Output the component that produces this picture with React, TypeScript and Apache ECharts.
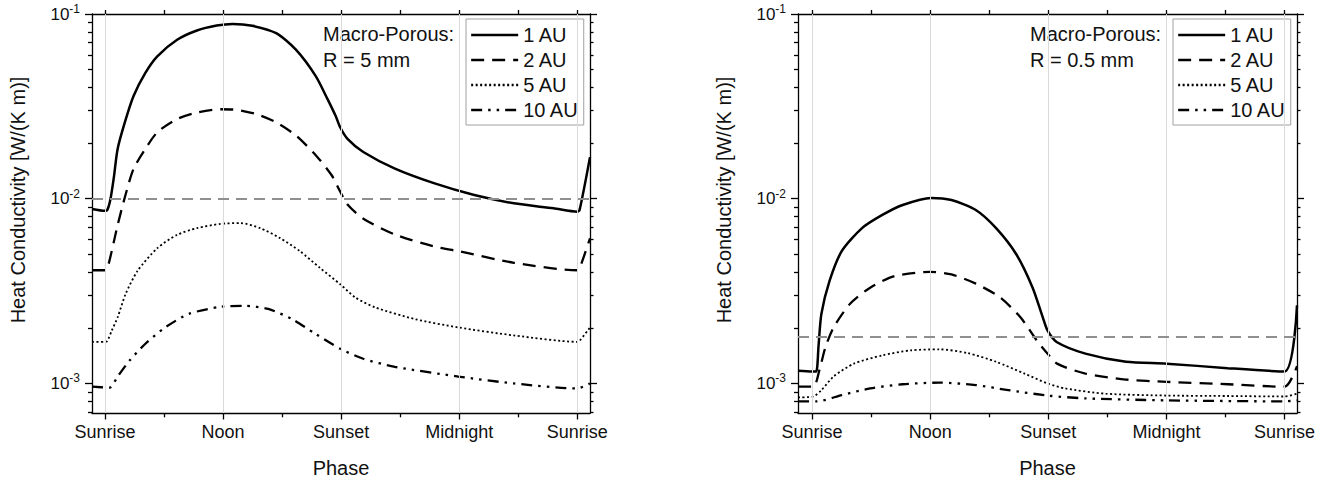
import React, { useEffect, useRef } from 'react';
import * as echarts from 'echarts';

// ---- Data (phase: 0 = Sunrise, 1 = Noon, 2 = Sunset, 3 = Midnight, 4 = Sunrise) ----
const PHASE_LABELS = ['Sunrise', 'Noon', 'Sunset', 'Midnight', 'Sunrise'];
const MAJOR_PHASES = [0, 1, 2, 3, 4];
const MINOR_PHASES = [0.5, 1.5, 2.5, 3.5];
const DECADE_EXPONENTS = [-3, -2, -1];
const SERIES_NAMES = ['1 AU', '2 AU', '5 AU', '10 AU'];
const PANEL_NOTES = ['Macro-Porous:\nR = 5 mm', 'Macro-Porous:\nR = 0.5 mm'];
const REFERENCE_LEVELS = [0.01, 0.0018];
const Y_AXIS_TITLE = 'Heat Conductivity [W/(K m)]';
const X_AXIS_TITLE = 'Phase';

// Left panel: R = 5 mm
const left1AU: [number, number][] = [
  [-0.11, 0.0088], [0, 0.0086], [0.02, 0.0087], [0.047, 0.01], [0.074, 0.0129], [0.107, 0.0186],
  [0.168, 0.0259], [0.242, 0.036], [0.342, 0.048], [0.443, 0.059], [0.611, 0.0725], [0.779, 0.0814],
  [0.946, 0.0866], [1.08, 0.0884], [1.248, 0.0863], [1.45, 0.0787], [1.617, 0.0641], [1.785, 0.0461],
  [1.886, 0.0345], [1.953, 0.0281], [1.993, 0.0243], [2.054, 0.0211], [2.188, 0.0179], [2.456, 0.01455],
  [2.792, 0.0121], [3.128, 0.01047], [3.463, 0.00944], [3.799, 0.00887], [4.0, 0.0085], [4.02, 0.0087],
  [4.108, 0.0168],
];
const left2AU: [number, number][] = [
  [-0.11, 0.0041], [0, 0.0041], [0.02, 0.0042], [0.057, 0.0052], [0.107, 0.0072], [0.174, 0.0105],
  [0.242, 0.0145], [0.342, 0.0186], [0.443, 0.0229], [0.611, 0.027], [0.779, 0.0293], [0.98, 0.0305],
  [1.114, 0.0303], [1.282, 0.0287], [1.45, 0.0259], [1.617, 0.022], [1.785, 0.0172], [1.92, 0.0134],
  [1.993, 0.0109], [2.054, 0.0093], [2.188, 0.0078], [2.456, 0.0064], [2.792, 0.0055], [2.993, 0.0052],
  [3.463, 0.0045], [4.0, 0.0041], [4.02, 0.0042], [4.108, 0.0061],
];
const left5AU: [number, number][] = [
  [-0.11, 0.00168], [0, 0.00168], [0.02, 0.0017], [0.057, 0.00193], [0.107, 0.00228], [0.174, 0.00304],
  [0.275, 0.00406], [0.443, 0.0054], [0.611, 0.00638], [0.779, 0.00693], [0.98, 0.00731], [1.148, 0.00738],
  [1.315, 0.00693], [1.483, 0.00612], [1.651, 0.0052], [1.819, 0.00423], [1.993, 0.00344], [2.121, 0.00292],
  [2.289, 0.00258], [2.624, 0.00223], [2.993, 0.00201], [3.463, 0.00182], [4.0, 0.00168], [4.02, 0.0017],
  [4.108, 0.00201],
];
const left10AU: [number, number][] = [
  [-0.11, 0.00096], [0.04, 0.00095], [0.107, 0.00109], [0.208, 0.00133], [0.342, 0.00164], [0.51, 0.00201],
  [0.711, 0.00238], [0.98, 0.0026], [1.181, 0.00263], [1.383, 0.00253], [1.584, 0.00223], [1.785, 0.00185],
  [1.993, 0.00154], [2.188, 0.00136], [2.456, 0.00123], [2.993, 0.00109], [3.463, 0.001], [4.0, 0.00094],
  [4.108, 0.001],
];

// Right panel: R = 0.5 mm
const right1AU: [number, number][] = [
  [-0.119, 0.00117], [0, 0.00116], [0.035, 0.00116], [0.055, 0.0016], [0.079, 0.00238], [0.148, 0.00359],
  [0.251, 0.0052], [0.423, 0.00693], [0.595, 0.00817], [0.767, 0.00925], [1.008, 0.0101], [1.18, 0.00984],
  [1.386, 0.00869], [1.558, 0.00693], [1.73, 0.00499], [1.867, 0.0033], [1.953, 0.00228], [1.994, 0.00193],
  [2.074, 0.00167], [2.314, 0.00145], [2.658, 0.00131], [3.002, 0.00128], [3.518, 0.00121], [3.999, 0.00116],
  [4.105, 0.00265],
];
const right2AU: [number, number][] = [
  [-0.119, 0.00096], [0.01, 0.00096], [0.062, 0.00118], [0.113, 0.00157], [0.182, 0.00201], [0.32, 0.00269],
  [0.492, 0.0033], [0.698, 0.00381], [0.997, 0.00402], [1.18, 0.00389], [1.386, 0.00347], [1.592, 0.00292],
  [1.764, 0.00228], [1.902, 0.00171], [1.994, 0.00145], [2.074, 0.00128], [2.314, 0.00113], [2.658, 0.00105],
  [3.002, 0.00102], [3.518, 0.00099], [3.999, 0.00096], [4.105, 0.00124],
];
const right5AU: [number, number][] = [
  [-0.119, 0.00084], [0.01, 0.00085], [0.079, 0.00092], [0.182, 0.00109], [0.354, 0.00128], [0.595, 0.00142],
  [0.836, 0.00151], [1.076, 0.00153], [1.317, 0.00146], [1.558, 0.00131], [1.799, 0.00113], [1.994, 0.001],
  [2.142, 0.00094], [2.486, 0.00088], [3.002, 0.00086], [3.518, 0.000855], [3.999, 0.00085], [4.105, 0.00088],
];
const right10AU: [number, number][] = [
  [-0.119, 0.0008], [0.04, 0.0008], [0.251, 0.000865], [0.492, 0.00094], [0.767, 0.00099], [1.076, 0.00101],
  [1.386, 0.00098], [1.661, 0.00092], [1.994, 0.00086], [2.314, 0.00083], [3.002, 0.00081], [3.999, 0.0008],
  [4.105, 0.00081],
];

const PANEL_DATA = [
  [left1AU, left2AU, left5AU, left10AU],
  [right1AU, right2AU, right5AU, right10AU],
];

// ---- Layout / style ----
const FONT = 'Arial, "Liberation Sans", Helvetica, sans-serif';
const GRIDS = [
  { left: 92, top: 14, width: 498, height: 402 },
  { left: 798, top: 14, width: 499, height: 402 },
];
const X_RANGES = [
  [-0.11, 4.108],
  [-0.119, 4.105],
];
const Y_MIN = Math.pow(10, -3.16);
const Y_MAX = 0.1;
const LOG_MIN = Math.log10(Y_MIN);
const LOG_MAX = Math.log10(Y_MAX);
const LEGEND_LEFT = [466, 1173];
const NOTE_LEFT = [323, 1030];

const LINE_STYLES = [
  { width: 2.5, type: 'solid' as any },
  { width: 2.3, type: [13, 8] as any },
  { width: 1.8, type: [2, 2.5] as any },
  { width: 2.3, type: [11, 6, 2.5, 6, 2.5, 6] as any },
];

const AXIS_LINE = { color: '#000', width: 1.3 };
const TEXT_COLOR = '#111';

function minorLogTicks(): number[] {
  const out: number[] = [];
  for (let d = -4; d <= -2; d++) {
    for (let k = 2; k <= 9; k++) {
      const v = k * Math.pow(10, d);
      if (v > Y_MIN && v < Y_MAX) out.push(Math.log10(v));
    }
  }
  return out;
}

function buildOption(): any {
  const minorY = minorLogTicks();
  const xAxis: any[] = [];
  const yAxis: any[] = [];
  const series: any[] = [];
  const legend: any[] = [];
  const graphic: any[] = [];

  GRIDS.forEach((_, i) => {
    const [xmin, xmax] = X_RANGES[i];
    const baseX = { type: 'value', gridIndex: i, min: xmin, max: xmax, splitLine: { show: false } };
    xAxis.push({
      ...baseX,
      position: 'bottom',
      axisLine: { show: true, onZero: false, lineStyle: AXIS_LINE },
      axisTick: { show: true, inside: false, length: 6.5, customValues: MAJOR_PHASES, lineStyle: AXIS_LINE },
      axisLabel: {
        show: true,
        customValues: MAJOR_PHASES,
        formatter: (v: number) => PHASE_LABELS[Math.round(v)] ?? '',
        margin: 10,
        fontSize: 18,
        color: TEXT_COLOR,
        fontFamily: FONT,
      },
      name: X_AXIS_TITLE,
      nameLocation: 'middle',
      nameGap: 45,
      nameTextStyle: { fontSize: 20, color: TEXT_COLOR, fontFamily: FONT },
    });
    xAxis.push({
      ...baseX,
      position: 'bottom',
      axisLine: { show: false, onZero: false },
      axisTick: { show: true, inside: false, length: 4.3, customValues: MINOR_PHASES, lineStyle: AXIS_LINE },
      axisLabel: { show: false },
    });
    xAxis.push({
      ...baseX,
      position: 'top',
      axisLine: { show: true, onZero: false, lineStyle: AXIS_LINE },
      axisTick: { show: true, inside: false, length: 4, customValues: [...MAJOR_PHASES, ...MINOR_PHASES], lineStyle: AXIS_LINE },
      axisLabel: { show: false },
    });

    yAxis.push({
      type: 'log',
      logBase: 10,
      gridIndex: i,
      min: Y_MIN,
      max: Y_MAX,
      position: 'left',
      axisLine: { show: true, onZero: false, lineStyle: AXIS_LINE },
      axisTick: { show: false },
      axisLabel: { show: false },
      splitLine: { show: false },
      name: Y_AXIS_TITLE,
      nameLocation: 'middle',
      nameGap: 64,
      nameTextStyle: { fontSize: 20, color: TEXT_COLOR, fontFamily: FONT, padding: [0, 0, 0, 27] },
    });
    const baseY = { type: 'value', gridIndex: i, min: LOG_MIN, max: LOG_MAX, splitLine: { show: false } };
    yAxis.push({
      ...baseY,
      position: 'left',
      axisLine: { show: false, onZero: false },
      axisTick: { show: true, inside: false, length: 7, customValues: DECADE_EXPONENTS, lineStyle: AXIS_LINE },
      axisLabel: {
        show: true,
        customValues: DECADE_EXPONENTS,
        formatter: (v: number) => `10{s|${Math.round(v)}}`,
        margin: 12,
        fontSize: 17,
        lineHeight: 22,
        color: TEXT_COLOR,
        fontFamily: FONT,
        rich: { s: { fontSize: 12, lineHeight: 12, verticalAlign: 'top', color: TEXT_COLOR, fontFamily: FONT } },
      },
    });
    yAxis.push({
      ...baseY,
      position: 'left',
      axisLine: { show: false, onZero: false },
      axisTick: { show: true, inside: false, length: 4, customValues: minorY, lineStyle: AXIS_LINE },
      axisLabel: { show: false },
    });
    yAxis.push({
      ...baseY,
      position: 'right',
      axisLine: { show: true, onZero: false, lineStyle: AXIS_LINE },
      axisTick: { show: true, inside: false, length: 7, customValues: DECADE_EXPONENTS, lineStyle: AXIS_LINE },
      axisLabel: { show: false },
    });
    yAxis.push({
      ...baseY,
      position: 'right',
      axisLine: { show: false, onZero: false },
      axisTick: { show: true, inside: false, length: 3.5, customValues: minorY, lineStyle: AXIS_LINE },
      axisLabel: { show: false },
    });

    const xIdx = i * 3;
    const yIdx = i * 5;

    // vertical grid lines + dashed reference level
    series.push({
      type: 'line',
      name: `guides-${i}`,
      xAxisIndex: xIdx,
      yAxisIndex: yIdx,
      data: [],
      silent: true,
      z: 1,
      markLine: {
        silent: true,
        precision: 8,
        symbol: ['none', 'none'],
        label: { show: false },
        animation: false,
        data: [
          ...MAJOR_PHASES.map((p) => ({ xAxis: p, lineStyle: { color: '#dadada', width: 1, type: 'solid' } })),
          { yAxis: REFERENCE_LEVELS[i], lineStyle: { color: '#8f8f8f', width: 2, type: [11, 7] } },
        ],
      },
    });

    PANEL_DATA[i].forEach((data, s) => {
      series.push({
        type: 'line',
        name: SERIES_NAMES[s],
        xAxisIndex: xIdx,
        yAxisIndex: yIdx,
        data,
        symbol: 'none',
        showSymbol: false,
        smooth: 0.25,
        silent: true,
        z: 3,
        lineStyle: { color: '#000', width: LINE_STYLES[s].width, type: LINE_STYLES[s].type },
        itemStyle: { color: '#000' },
      });
    });

    legend.push({
      data: SERIES_NAMES,
      orient: 'vertical',
      left: LEGEND_LEFT[i],
      top: 19,
      padding: [6, 5, 5, 4],
      itemGap: 5,
      itemWidth: 47,
      itemHeight: 14,
      borderColor: '#a0a0a0',
      borderWidth: 1,
      backgroundColor: '#fff',
      selectedMode: false,
      itemStyle: { opacity: 0 },
      lineStyle: { width: 2.3 },
      textStyle: { fontSize: 20, color: TEXT_COLOR, fontFamily: FONT },
    });

    graphic.push({
      type: 'text',
      x: NOTE_LEFT[i],
      y: 21,
      silent: true,
      style: {
        text: PANEL_NOTES[i],
        fontSize: 20,
        lineHeight: 26,
        fontFamily: FONT,
        fill: TEXT_COLOR,
        verticalAlign: 'top',
      },
    });
  });

  return {
    animation: false,
    backgroundColor: '#fff',
    grid: GRIDS.map((g) => ({ ...g, containLabel: false })),
    xAxis,
    yAxis,
    series,
    legend,
    graphic,
  };
}

export default function App() {
  const ref = useRef<HTMLDivElement>(null);
  useEffect(() => {
    if (!ref.current) return;
    const chart = echarts.init(ref.current, undefined, { renderer: 'svg' });
    chart.setOption(buildOption());
    return () => chart.dispose();
  }, []);
  return (
    <div
      ref={ref}
      style={{ position: 'absolute', left: 0, top: 0, width: 1336, height: 483, background: '#fff' }}
    />
  );
}
